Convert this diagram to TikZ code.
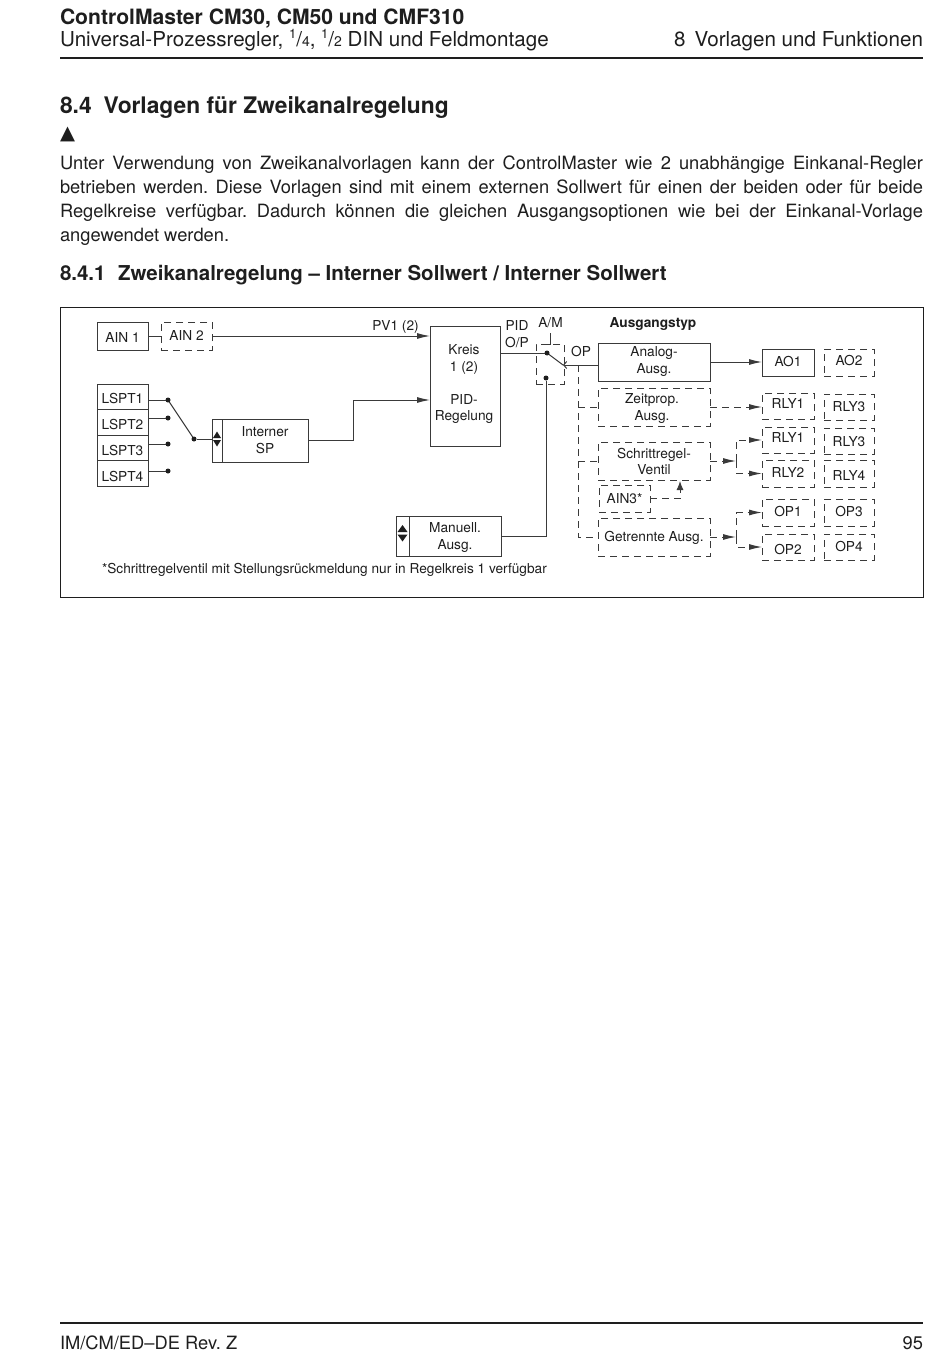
\documentclass[tikz,border=0pt]{standalone}
\usepackage{fontspec}
\setmainfont{TeX Gyre Heros}
\newfontfamily\symfont{DejaVu Sans}
\usetikzlibrary{arrows.meta,calc}
\definecolor{ln}{HTML}{3A3A3A}
\definecolor{tx}{HTML}{1E1E1E}
\newcommand{\fsz}[1]{\fontsize{#1pt}{#1pt}\selectfont}
\newcommand{\bx}[7]{% name x0 y0 x1 y1 style text
  \pgfmathsetmacro{\bw}{#4-#2}\pgfmathsetmacro{\bh}{#5-#3}
  \pgfmathsetmacro{\bcx}{(#2+#4)/2}\pgfmathsetmacro{\bcy}{(#3+#5)/2}
  \node[#6,minimum width=\bw pt,minimum height=\bh pt] (#1) at (\bcx,\bcy) {#7};}
\newcommand{\jline}[2]{\node[body,anchor=base west] (#1) at (60,#2)}
% one line of text, its capitals centred on the node centre and moved up by #1
\newcommand{\dy}[2]{\raisebox{\dimexpr #1-.365em\relax}[0pt][0pt]{#2}}
% two lines of text, the middle of their capitals on the node centre, moved up by #1
\newcommand{\shf}[2]{\raisebox{\dimexpr #1-.25em-2.25pt\relax}[0pt][0pt]{\begin{tabular}{@{}c@{}}#2\end{tabular}}}
\tikzset{
  x=1pt,y=-1pt,
  every node/.style={text=tx,inner sep=0pt,outer sep=0pt},
  body/.style={font=\fsz{18.3}},
  dg/.style={font=\fsz{13.7}},
  sbox/.style={dg,draw=ln,line width=1pt},
  dbox/.style={dg,draw=ln,line width=1pt,dash pattern=on 7pt off 5pt},
  wire/.style={draw=ln,line width=1pt},
  dsh/.style={wire,dash pattern=on 7pt off 5pt},
  arr/.style={-{Latex[length=13pt,width=6pt]}},
  arrs/.style={-{Latex[length=9pt,width=7pt]}},
  dotn/.style={circle,fill=tx,minimum size=5pt},
  tri/.style={fill=tx,draw=none}
}
\frenchspacing
\begin{document}
\begin{tikzpicture}
\useasboundingbox (0,0) rectangle (950,1364);
\fill[white] (0,0) rectangle (950,1364);
% page header
\node[anchor=base west,font=\fsz{21.1}\bfseries] (h1) at (60,25) {ControlMaster CM30, CM50 und CMF310};
\node[anchor=base west,font=\fsz{20.6}] (h2) at (60,47) {Universal-Prozessregler, \raisebox{.42em}{\fsz{13}1}/\fsz{14}4\fsz{20.6}, \raisebox{.42em}{\fsz{13}1}/\fsz{14}2\fsz{20.6} DIN und Feldmontage};
\node[anchor=base east,font=\fsz{20.6}] (h3) at (923,47) {8\hspace{9pt}Vorlagen und Funktionen};
\coordinate (rl) at (60,58); \coordinate (rr) at (923,58);
\draw[line width=1.3pt,draw=tx] (rl) -- (rr);
\node[anchor=base west,font=\fsz{22.8}\bfseries] (s1) at (60,114) {8.4\hspace{12pt}Vorlagen für Zweikanalregelung};
\node[anchor=base west,font=\fsz{19.5}\symfont] (s2) at (60,140) {▲};
% body text
\jline{b1}{170} {\makebox[863pt][s]{Unter Verwendung von Zweikanalvorlagen kann der ControlMaster wie 2 unabhängige Einkanal-Regler}};
\jline{b2}{194} {\makebox[863pt][s]{betrieben werden. Diese Vorlagen sind mit einem externen Sollwert für einen der beiden oder für beide}};
\jline{b3}{218} {\makebox[863pt][s]{Regelkreise verfügbar. Dadurch können die gleichen Ausgangsoptionen wie bei der Einkanal-Vorlage}};
\jline{b4}{242} {angewendet werden.};
\node[anchor=base west,font=\fsz{20.5}\bfseries] (s3) at (60,280) {8.4.1\hspace{12.5pt}Zweikanalregelung – Interner Sollwert / Interner Sollwert};
% frame
\bx{frame}{60}{307}{923}{597}{draw=tx,line width=1pt}{}
% boxes left
\bx{ain1}{97}{322}{148}{350}{sbox}{\dy{-1pt}{AIN 1}}
\bx{ain2}{161}{322}{212}{350}{dbox}{\dy{1pt}{AIN 2}}
\bx{l1}{97}{384}{148}{409.5}{sbox}{\dy{-1.25pt}{LSPT1}}
\bx{l2}{97}{409.5}{148}{435}{sbox}{\dy{-1.75pt}{LSPT2}}
\bx{l3}{97}{435}{148}{460.5}{sbox}{\dy{-2.25pt}{LSPT3}}
\bx{l4}{97}{460.5}{148}{486}{sbox}{\dy{-2.75pt}{LSPT4}}
\bx{isp}{212}{419}{308}{462}{sbox}{\hspace{10pt}\shf{.5pt}{Interner\\[2pt]SP}}
\bx{kreis}{430}{326}{500}{446}{sbox}{}
\node[dg] (k1) at (464,358) {\shf{0pt}{Kreis\\[2pt]1 (2)}};
\node[dg] (k2) at (464,407.5) {\shf{0pt}{PID-\\[2pt]Regelung}};
\bx{man}{396}{516}{501}{556}{sbox}{\hspace{13pt}\shf{0pt}{Manuell.\\[2pt]Ausg.}}
\bx{sw}{536}{344}{564}{384}{dbox}{}
% output boxes
\bx{ana}{598}{343}{710}{381}{sbox}{\shf{2pt}{Analog-\\[2pt]Ausg.}}
\bx{zeit}{598}{388}{710}{426}{dbox}{\hspace{-4pt}\shf{0pt}{Zeitprop.\\[2pt]Ausg.}}
\bx{schr}{598}{442}{710}{480}{dbox}{\shf{0pt}{Schrittregel-\\[2pt]Ventil}}
\bx{ain3}{599}{485}{650}{512}{dbox}{\dy{0pt}{AIN3*}}
\bx{getr}{598}{518}{710}{556}{dbox}{\dy{1pt}{Getrennte Ausg.}}
\bx{ao1}{762}{349}{814}{376}{sbox}{\dy{1.5pt}{AO1}}
\bx{ao2}{824}{349}{874}{376}{dbox}{\dy{2.5pt}{AO2}}
\bx{r1}{762}{393}{814}{419}{dbox}{\dy{3pt}{RLY1}}
\bx{r3}{824}{394}{874}{420}{dbox}{\dy{1pt}{RLY3}}
\bx{r1b}{762}{427}{814}{453}{dbox}{\dy{3pt}{RLY1}}
\bx{r3b}{824}{428}{874}{454}{dbox}{\dy{0pt}{RLY3}}
\bx{r2}{762}{460}{814}{487}{dbox}{\dy{1.5pt}{RLY2}}
\bx{r4}{824}{460}{874}{487}{dbox}{\dy{-1.5pt}{RLY4}}
\bx{o1}{762}{499}{814}{526}{dbox}{\dy{1.5pt}{OP1}}
\bx{o3}{824}{499}{874}{526}{dbox}{\dy{1.5pt}{OP3}}
\bx{o2}{762}{534}{814}{560}{dbox}{\dy{-2pt}{OP2}}
\bx{o4}{824}{534}{874}{560}{dbox}{\dy{1pt}{OP4}}
% labels
\node[dg] (pv) at (395.5,325) {\dy{0pt}{PV1 (2)}};
\node[dg] (pid) at (517,334) {\shf{0pt}{PID\\[2pt]O/P}};
\node[dg,minimum height=8pt] (am) at (550.5,322) {\dy{0pt}{A/M}};
\node[dg] (op) at (581,351) {\dy{0pt}{OP}};
\node[dg,font=\fsz{13.7}\bfseries] (at) at (653,322) {\dy{0pt}{Ausgangstyp}};
\node[font=\fsz{13.66},anchor=base west] (fn) at (102,573.5) {*Schrittregelventil mit Stellungsrückmeldung nur in Regelkreis 1 verfügbar};
% dots
\node[dotn] (d1) at (168,400) {};
\node[dotn] (d2) at (168,418) {};
\node[dotn] (d3) at (168,444) {};
\node[dotn] (d4) at (168,471) {};
\node[dotn] (d5) at (194,439) {};
\node[dotn] (d6) at (547,353) {};
\node[dotn] (d7) at (546,378) {};
% helper points
\coordinate (spb) at (353,400);
\coordinate (swt) at (563,365);
\coordinate (amt) at (546,344);
\coordinate (amb) at (550.5,333);
\coordinate (opj) at (578,365);
\coordinate (sj) at (736,461);
\coordinate (gj) at (736,537);
\coordinate (a3t) at (680,481);
% wires
\draw[wire] (ain1.east) -- (ain2.west);
\draw[wire,arr] (ain2.east) -- (ain2.east -| kreis.west);
\draw[wire] (d1 -| l1.east) -- (d1);
\draw[wire] (d2 -| l2.east) -- (d2);
\draw[wire] (d3 -| l3.east) -- (d3);
\draw[wire] (d4 -| l4.east) -- (d4);
\draw[wire] (d1) -- (d5);
\draw[wire] (d5) -- (d5 -| isp.west);
\draw[wire,arr] (isp.east) -| (spb) -- (spb -| kreis.west);
\draw[wire] (d6 -| kreis.east) -- (d6);
\draw[wire] (d6) -- (swt);
\draw[wire,{Straight Barb[length=3pt,width=7pt]}-] (swt) -- (swt -| ana.west);
\draw[wire] (amb) |- (amt);
\draw[wire] (d7) |- (man.east);
% outputs
\draw[wire,arr] (ana.east) -- (ana.east -| ao1.west);
\draw[dsh] (opj) |- (getr.west);
\draw[dsh] (opj |- zeit.west) -- (zeit.west);
\draw[dsh] (opj |- schr.west) -- (schr.west);
\draw[dsh,arr] (zeit.east) -- (zeit.east -| r1.west);
\draw[dsh,arr] (schr.east) -- (sj);
\draw[dsh,arr] (sj) |- (r1b.west);
\draw[dsh,arr] (sj) |- (r2.west);
\draw[dsh,arr] (getr.east) -- (gj);
\draw[dsh,arr] (gj) |- (o1.west);
\draw[dsh,arr] (gj) |- (o2.west);
\draw[dsh,arrs] (ain3.east) -| (a3t);
% up/down markers
\draw[wire] (222,419) -- (222,462);
\draw[wire] (409,516) -- (409,556);
\fill[tri] (217,431.5) -- (221,438) -- (213,438) -- cycle;
\fill[tri] (217,446.5) -- (221,440) -- (213,440) -- cycle;
\fill[tri] (402.5,525) -- (407.5,532) -- (397.5,532) -- cycle;
\fill[tri] (402.5,541.5) -- (407.5,534.5) -- (397.5,534.5) -- cycle;
% footer
\coordinate (fl) at (60,1323); \coordinate (fr) at (923,1323);
\draw[line width=1.3pt,draw=tx] (fl) -- (fr);
\node[anchor=base west,font=\fsz{18.3}] (f1) at (60,1349) {IM/CM/ED–DE Rev. Z};
\node[anchor=base east,font=\fsz{18.3}] (f2) at (923,1349) {95};
\end{tikzpicture}
\end{document}
